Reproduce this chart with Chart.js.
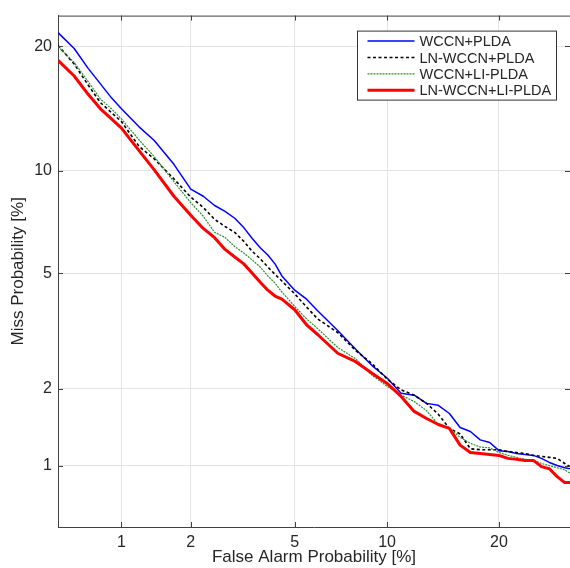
<!DOCTYPE html>
<html><head><meta charset="utf-8">
<script src="https://cdn.jsdelivr.net/npm/chart.js@4.4.0/dist/chart.umd.min.js"></script>
<style>html,body{margin:0;padding:0;background:#fff;overflow:hidden}#wrap{width:570px;height:568px;position:relative}</style>
</head><body><div id="wrap"><canvas id="c" width="570" height="568"></canvas></div>
<script>
// False alarm probabilities [%] at which the curves were read
const falseAlarmPct = [0.5,0.6,0.7,0.8,0.9,1,1.2,1.4,1.7,2,2.25,2.5,2.75,3,3.25,3.5,3.75,4,4.25,4.5,5,5.5,6,7,8,9,10,11,12,13,14,15,16,17,18,19,20,21,22,23,24,25,26,27,28,28.7];
// Miss probabilities [%]
const missWccnPlda     = [21.4,19.8,17.9,16.5,15.3,14.4,13.0,12.0,10.4,8.9,8.5,8.0,7.7,7.35,6.9,6.4,6.0,5.7,5.35,4.9,4.41,4.12,3.77,3.23,2.78,2.43,2.19,1.92,1.89,1.76,1.73,1.61,1.42,1.37,1.27,1.24,1.15,1.14,1.12,1.11,1.1,1.07,1.03,1.0,0.98,0.97];
const missLnWccnPlda   = [20.1,18.3,16.4,14.9,14.1,13.4,11.6,10.75,9.5,8.45,7.9,7.3,6.95,6.68,6.28,5.85,5.55,5.23,4.96,4.72,4.29,3.88,3.54,3.18,2.75,2.47,2.17,1.98,1.89,1.76,1.6,1.41,1.34,1.17,1.16,1.16,1.16,1.14,1.13,1.12,1.1,1.09,1.08,1.07,1.02,0.99];
const missWccnLiPlda   = [20,18.45,16.7,15.2,14.4,13.6,12.05,10.9,9.33,8.15,7.45,6.68,6.45,6.05,5.78,5.5,5.23,4.9,4.65,4.35,3.9,3.54,3.28,2.82,2.57,2.24,2.04,1.89,1.79,1.65,1.46,1.41,1.3,1.23,1.19,1.18,1.13,1.1,1.08,1.06,1.05,1.02,1.0,0.98,0.96,0.93];
const missLnWccnLiPlda = [18.65,17.2,15.6,14.4,13.6,12.9,11.3,10.05,8.5,7.5,6.86,6.44,5.93,5.62,5.35,5.0,4.68,4.41,4.22,4.12,3.8,3.38,3.13,2.69,2.51,2.28,2.09,1.87,1.64,1.54,1.46,1.41,1.21,1.13,1.12,1.11,1.1,1.07,1.06,1.05,1.05,0.99,0.97,0.9,0.85,0.85];
const seriesLabels = ['WCCN+PLDA','LN-WCCN+PLDA','WCCN+LI-PLDA','LN-WCCN+LI-PLDA'];
const xTickPct = [1,2,5,10,20];
const yTickPct = [1,2,5,10,20];
const xRangePct = [0.5, 28.7];
const yRangePct = [0.548, 23.2];

function probit(p){
  const a=[-3.969683028665376e+01,2.209460984245205e+02,-2.759285104469687e+02,1.383577518672690e+02,-3.066479806614716e+01,2.506628277459239e+00];
  const b=[-5.447609879822406e+01,1.615858368580409e+02,-1.556989798598866e+02,6.680131188771972e+01,-1.328068155288572e+01];
  const c=[-7.784894002430293e-03,-3.223964580411365e-01,-2.400758277161838e+00,-2.549732539343734e+00,4.374664141464968e+00,2.938163982698783e+00];
  const d=[7.784695709041462e-03,3.224671290700398e-01,2.445134137142996e+00,3.754408661907416e+00];
  const pl=0.02425, ph=1-pl; let q,r;
  if(p<pl){q=Math.sqrt(-2*Math.log(p));return (((((c[0]*q+c[1])*q+c[2])*q+c[3])*q+c[4])*q+c[5])/((((d[0]*q+d[1])*q+d[2])*q+d[3])*q+1);}
  if(p<=ph){q=p-0.5;r=q*q;return (((((a[0]*r+a[1])*r+a[2])*r+a[3])*r+a[4])*r+a[5])*q/(((((b[0]*r+b[1])*r+b[2])*r+b[3])*r+b[4])*r+1);}
  q=Math.sqrt(-2*Math.log(1-p));return -(((((c[0]*q+c[1])*q+c[2])*q+c[3])*q+c[4])*q+c[5])/((((d[0]*q+d[1])*q+d[2])*q+d[3])*q+1);
}
const toPts = arr => arr.map((m,i)=>({x:probit(falseAlarmPct[i]/100), y:probit(m/100)}));

const FONT = '"Liberation Sans", Arial, Helvetica, sans-serif';
const TXT = '#262626';
const AXIS = '#404040';

const decor = {
  id:'decor',
  afterDatasetsDraw(chart){
    const {ctx, chartArea:a, scales:{x,y}} = chart;
    ctx.save();
    ctx.strokeStyle = AXIS; ctx.lineWidth = 1; ctx.setLineDash([]);
    ctx.beginPath();
    ctx.moveTo(a.left, a.top+0.5); ctx.lineTo(a.right, a.top+0.5);
    const tl = 5;
    x.ticks.forEach(t=>{ const px=Math.round(x.getPixelForValue(t.value))+0.5;
      ctx.moveTo(px,a.bottom); ctx.lineTo(px,a.bottom-tl);
      ctx.moveTo(px,a.top); ctx.lineTo(px,a.top+tl); });
    y.ticks.forEach(t=>{ const py=Math.round(y.getPixelForValue(t.value))+0.5;
      ctx.moveTo(a.left,py); ctx.lineTo(a.left+tl,py);
      ctx.moveTo(a.right,py); ctx.lineTo(a.right-tl,py); });
    ctx.stroke();
    // legend
    const bx = a.right-212.5, by = a.top+15.5, bw = 199, bh = 69;
    ctx.fillStyle='#fff'; ctx.fillRect(bx,by,bw,bh);
    ctx.strokeStyle='#333'; ctx.lineWidth=1; ctx.strokeRect(bx,by,bw,bh);
    ctx.font = '14.5px '+FONT; ctx.textBaseline='middle'; ctx.textAlign='left';
    chart.data.datasets.forEach((ds,i)=>{
      const ry = by + 10 + i*16.4;
      ctx.beginPath(); ctx.strokeStyle=ds.borderColor; ctx.lineWidth=ds.borderWidth;
      ctx.setLineDash(ds.borderDash||[]);
      ctx.moveTo(bx+10, ry); ctx.lineTo(bx+57, ry); ctx.stroke();
      ctx.setLineDash([]);
      ctx.fillStyle = TXT; ctx.fillText(ds.label, bx+62, ry+1);
    });
    ctx.restore();
  }
};

const tickFont = {family:FONT, size:16};
new Chart(document.getElementById('c'), {
  type:'line',
  data:{ datasets:[
    {label:seriesLabels[0], data:toPts(missWccnPlda), borderColor:'#0000ff', borderWidth:1.5, order:3},
    {label:seriesLabels[1], data:toPts(missLnWccnPlda), borderColor:'#000000', borderWidth:1.6, borderDash:[3,2.5], order:2},
    {label:seriesLabels[2], data:toPts(missWccnLiPlda), borderColor:'#2b8c2b', borderWidth:1.2, borderDash:[2,1], order:1},
    {label:seriesLabels[3], data:toPts(missLnWccnLiPlda), borderColor:'#ff0000', borderWidth:3, order:0}
  ]},
  options:{
    responsive:false, animation:false, devicePixelRatio:1,
    parsing:false,
    elements:{point:{radius:0}, line:{tension:0, borderCapStyle:'butt', borderJoinStyle:'round'}},
    layout:{padding:{top:13,right:0,left:0,bottom:0}},
    plugins:{legend:{display:false}, tooltip:{enabled:false}},
    scales:{
      x:{type:'linear', min:probit(xRangePct[0]/100), max:probit(xRangePct[1]/100),
        afterBuildTicks:s=>{s.ticks = xTickPct.map(v=>({value:probit(v/100)}));},
        ticks:{callback:(v,i)=>String(xTickPct[i]), font:tickFont, color:TXT, padding:6, maxRotation:0, autoSkip:false},
        grid:{color:'#e3e3e3', drawTicks:false}, border:{color:AXIS, width:1},
        title:{display:true, text:'False Alarm Probability [%]', font:{family:FONT,size:17}, color:TXT, padding:{top:0,bottom:0}},
        afterFit:s=>{s.height=41;}
      },
      y:{type:'linear', min:probit(yRangePct[0]/100), max:probit(yRangePct[1]/100),
        afterBuildTicks:s=>{s.ticks = yTickPct.map(v=>({value:probit(v/100)}));},
        ticks:{callback:(v,i)=>String(yTickPct[i]), font:tickFont, color:TXT, padding:6, autoSkip:false},
        grid:{color:'#e3e3e3', drawTicks:false}, border:{color:AXIS, width:1},
        title:{display:true, text:'Miss Probability [%]', font:{family:FONT,size:17}, color:TXT, padding:{top:8,bottom:0}},
        afterFit:s=>{s.width=58;}
      }
    }
  },
  plugins:[decor]
});
</script></body></html>
